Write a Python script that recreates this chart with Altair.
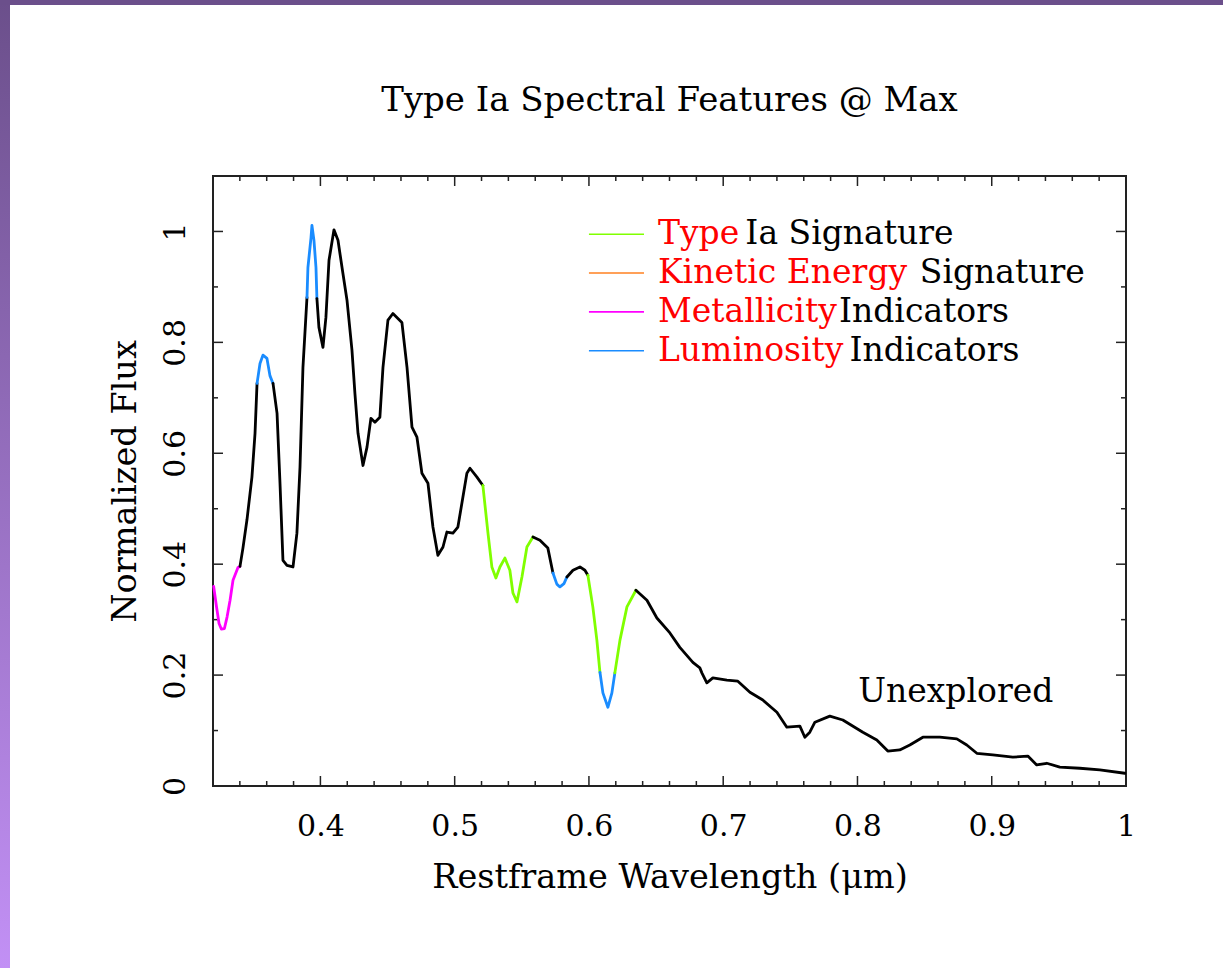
import altair as alt
import pandas as pd

# ---------------- data ----------------
wavelength = [
    0.3205, 0.3225, 0.3245, 0.3262, 0.3285, 0.3305, 0.3327, 0.3349, 0.3386,
    0.3401, 0.3423, 0.3453, 0.3490, 0.3513,
    0.3528, 0.3550, 0.3572, 0.3602, 0.3624,
    0.3647, 0.3677, 0.3699, 0.3721, 0.3751, 0.3796, 0.3825, 0.3848, 0.3870,
    0.3900, 0.3907, 0.3930, 0.3937, 0.3952, 0.3967,
    0.3974, 0.3989, 0.4019, 0.4041, 0.4064, 0.4101, 0.4131, 0.4161, 0.4198,
    0.4235, 0.4257, 0.4280, 0.4317, 0.4347, 0.4376, 0.4406, 0.4443, 0.4466,
    0.4503, 0.4540, 0.4607, 0.4645, 0.4682, 0.4719, 0.4756, 0.4801, 0.4838,
    0.4875, 0.4913, 0.4942, 0.4987, 0.5024, 0.5091, 0.5114, 0.5166,
    0.5210, 0.5248, 0.5277, 0.5307, 0.5337, 0.5374, 0.5411, 0.5434, 0.5464,
    0.5501, 0.5538,
    0.5583, 0.5635, 0.5694,
    0.5732, 0.5761, 0.5784, 0.5814,
    0.5836, 0.5881, 0.5933, 0.5970,
    0.5992, 0.6029, 0.6059,
    0.6082, 0.6104, 0.6141, 0.6171,
    0.6193, 0.6231, 0.6283,
    0.6350, 0.6432, 0.6506, 0.6603, 0.6677, 0.6774, 0.6826, 0.6841, 0.6878,
    0.6923, 0.7027, 0.7109, 0.7199, 0.7295, 0.7400, 0.7474, 0.7571, 0.7608,
    0.7645, 0.7683, 0.7794, 0.7891, 0.8040, 0.8144, 0.8226, 0.8315, 0.8390,
    0.8487, 0.8613, 0.8740, 0.8814, 0.8889, 0.9008, 0.9157, 0.9269, 0.9335,
    0.9410, 0.9507, 0.9656, 0.9805, 0.9991,
]
flux = [
    0.360, 0.325, 0.293, 0.283, 0.284, 0.305, 0.335, 0.371, 0.394,
    0.396, 0.429, 0.480, 0.557, 0.636,
    0.726, 0.762, 0.777, 0.771, 0.740,
    0.726, 0.672, 0.546, 0.407, 0.398, 0.395, 0.456, 0.575, 0.755,
    0.881, 0.935, 0.989, 1.011, 0.984, 0.935,
    0.879, 0.827, 0.791, 0.845, 0.948, 1.003, 0.984, 0.935, 0.876,
    0.786, 0.708, 0.636, 0.578, 0.611, 0.663, 0.656, 0.665, 0.755,
    0.840, 0.852, 0.836, 0.755, 0.647, 0.629, 0.564, 0.546, 0.467,
    0.416, 0.431, 0.458, 0.456, 0.467, 0.564, 0.573, 0.557,
    0.542, 0.456, 0.395, 0.375, 0.395, 0.411, 0.389, 0.348, 0.332,
    0.377, 0.431,
    0.449, 0.443, 0.429,
    0.384, 0.364, 0.359, 0.365,
    0.377, 0.389, 0.395, 0.389,
    0.380, 0.323, 0.263,
    0.205, 0.168, 0.142, 0.168,
    0.204, 0.263, 0.323,
    0.353, 0.335, 0.303, 0.276, 0.250, 0.223, 0.213, 0.204, 0.186,
    0.195, 0.191, 0.189, 0.169, 0.155, 0.133, 0.106, 0.108, 0.088,
    0.097, 0.115, 0.126, 0.119, 0.097, 0.083, 0.063, 0.065, 0.074,
    0.088, 0.088, 0.085, 0.074, 0.059, 0.056, 0.052, 0.054, 0.038,
    0.041, 0.034, 0.032, 0.029, 0.023,
]
# feature class of the segment that starts at each point
feature = (
    ["Metallicity"] * 9
    + ["Spectrum"] * 5
    + ["Luminosity"] * 5
    + ["Spectrum"] * 9
    + ["Luminosity"] * 6
    + ["Spectrum"] * 35
    + ["Type"] * 11
    + ["Spectrum"] * 3
    + ["Luminosity"] * 4
    + ["Spectrum"] * 4
    + ["Type"] * 3
    + ["Luminosity"] * 4
    + ["Type"] * 3
    + ["Spectrum"] * 41
)

legend_red = ["Type", "Kinetic Energy", "Metallicity", "Luminosity"]
legend_black = ["Ia Signature", "Signature", "Indicators", "Indicators"]
legend_class = ["Type", "Kinetic", "Metallicity", "Luminosity"]

x_major = [0.4, 0.5, 0.6, 0.7, 0.8, 0.9, 1.0]
x_minor = [0.34, 0.36, 0.38, 0.42, 0.44, 0.46, 0.48, 0.52, 0.54, 0.56, 0.58,
           0.62, 0.64, 0.66, 0.68, 0.72, 0.74, 0.76, 0.78, 0.82, 0.84, 0.86,
           0.88, 0.92, 0.94, 0.96, 0.98]
y_major = [0.2, 0.4, 0.6, 0.8, 1.0]
y_minor = [0.1, 0.3, 0.5, 0.7, 0.9]
y_labels = [0, 0.2, 0.4, 0.6, 0.8, 1.0]

# ---------------- build tables ----------------
n = len(wavelength)
assert len(flux) == n and len(feature) == n, (len(wavelength), len(flux), len(feature))
rows = []
run = 0
i = 0
while i < n - 1:
    j = i
    while j + 1 < n - 1 and feature[j + 1] == feature[i]:
        j += 1
    for k in range(i, j + 2):
        rows.append({"wl": wavelength[k], "flux": flux[k], "run": run,
                     "feature": feature[i], "k": k})
    run += 1
    i = j + 1
spec = pd.DataFrame(rows)

W, H = 913, 610
FONT = "DejaVu Serif"
XDOM = [0.32, 1.0]
YDOM = [0.0, 1.1]
xs = alt.Scale(domain=XDOM, nice=False, zero=False)
ys = alt.Scale(domain=YDOM, nice=False, zero=False)

XAX = alt.Axis(
    values=x_major, format=".1~f", ticks=False, tickSize=0, domain=False, grid=False,
    labelFont=FONT, labelFontSize=30, labelColor="black", labelPadding=40,
    labelBaseline="middle", labelAlign="center", labelFlush=False,
    title="Restframe Wavelength (μm)", titleFont=FONT, titleFontSize=33.5,
    titleFontWeight="normal", titleColor="black", titleY=91, titleX=W / 2,
    titleBaseline="middle", titleAlign="center")
YAX = alt.Axis(
    values=y_labels, format=".1~f", ticks=False, tickSize=0, domain=False, grid=False,
    labelFont=FONT, labelFontSize=30, labelColor="black", labelPadding=38,
    labelAngle=270, labelBaseline="middle", labelAlign="center", labelFlush=False,
    title="Normalized Flux", titleFont=FONT, titleFontSize=33.5,
    titleFontWeight="normal", titleColor="black", titleX=-88, titleY=H / 2,
    titleAngle=270, titleBaseline="middle", titleAlign="center")


def X(field):
    return alt.X(field, scale=xs, axis=XAX)


def Y(field):
    return alt.Y(field, scale=ys, axis=YAX)


cls_domain = ["Spectrum", "Type", "Kinetic", "Metallicity", "Luminosity"]
cls_range = ["#000000", "#80ff00", "#ff8020", "#ff00ff", "#1a8cff"]
cscale = alt.Scale(domain=cls_domain, range=cls_range)

line = alt.Chart(spec).mark_line(strokeWidth=2.8, strokeJoin="round", strokeCap="round").encode(
    x=X("wl:Q"),
    y=Y("flux:Q"),
    color=alt.Color("feature:N", scale=cscale, legend=None),
    detail="run:N",
    order="k:Q",
)

TICK = "#222222"
xmaj = pd.DataFrame({"v": x_major[:-1]})
xmin = pd.DataFrame({"v": x_minor})
ymaj = pd.DataFrame({"v": y_major})
ymin = pd.DataFrame({"v": y_minor})


def xticks(df, length):
    base = alt.Chart(df).mark_rule(color=TICK, strokeWidth=1.5)
    bot = base.encode(x=X("v:Q"), y=alt.value(H), y2=alt.value(H - length))
    top = base.encode(x=X("v:Q"), y=alt.value(0), y2=alt.value(length))
    return [bot, top]


def yticks(df, length):
    base = alt.Chart(df).mark_rule(color=TICK, strokeWidth=1.5)
    left = base.encode(y=Y("v:Q"), x=alt.value(0), x2=alt.value(length))
    right = base.encode(y=Y("v:Q"), x=alt.value(W), x2=alt.value(W - length))
    return [left, right]


ticks = xticks(xmaj, 10) + xticks(xmin, 5) + yticks(ymaj, 10) + yticks(ymin, 5)

# legend (drawn inside plot, in data coordinates)
leg_rows = [0.995, 0.925, 0.855, 0.785]
black_start = [0.7165, 0.8464, 0.7862, 0.7940]
leg = pd.DataFrame({
    "red": legend_red, "black": legend_black, "cls": legend_class,
    "y": leg_rows, "x1": [0.600] * 4, "x2": [0.641] * 4,
    "xt": [0.6514] * 4, "xb": black_start,
})
leg_lines = alt.Chart(leg).mark_rule(strokeWidth=1.6).encode(
    x=X("x1:Q"), x2="x2:Q", y=Y("y:Q"),
    color=alt.Color("cls:N", scale=cscale, legend=None),
)
leg_red = alt.Chart(leg).mark_text(font=FONT, fontSize=33, color="#ff0000",
                                   align="left", baseline="middle").encode(
    x=X("xt:Q"), y=Y("y:Q"), text="red:N")
leg_black = alt.Chart(leg).mark_text(font=FONT, fontSize=33, color="black",
                                     align="left", baseline="middle").encode(
    x=X("xb:Q"), y=Y("y:Q"), text="black:N")

note = alt.Chart(pd.DataFrame({"x": [0.8732], "y": [0.169], "t": ["Unexplored"]})).mark_text(
    font=FONT, fontSize=33, color="black", align="center", baseline="middle").encode(
    x=X("x:Q"), y=Y("y:Q"), text="t:N")

# chart title, centred above the plot
title = alt.Chart(pd.DataFrame({"t": ["Type Ia Spectral Features @ Max"]})).mark_text(
    font=FONT, fontSize=34, color="black", align="center", baseline="alphabetic").encode(
    x=alt.value(W / 2), y=alt.value(-65), text="t:N")

# decorative slide frame (purple strips at top and left)
one = alt.Data(values=[{"a": 1}])
left_strip = alt.Chart(one).mark_rect(color=alt.LinearGradient(
    gradient="linear", x1=0, x2=0, y1=0, y2=1,
    stops=[alt.GradientStop(color="#6b4f8b", offset=0),
           alt.GradientStop(color="#c290f5", offset=1)])).encode(
    x=alt.value(-213), x2=alt.value(-203), y=alt.value(-176), y2=alt.value(792))
top_strip = alt.Chart(one).mark_rect(color="#6b4f8b").encode(
    x=alt.value(-213), x2=alt.value(1010), y=alt.value(-176), y2=alt.value(-171))

chart = alt.layer(
    left_strip, top_strip, title, *ticks, leg_lines, leg_red, leg_black, note, line
).properties(
    width=W, height=H,
    autosize=alt.AutoSizeParams(type="none"),
    padding={"left": 213, "top": 176, "right": 97, "bottom": 182},
).configure(
    background="white"
).configure_view(
    stroke="#222222", strokeWidth=2
)

chart.save("out.html", embed_options={"renderer": "svg", "actions": False})
